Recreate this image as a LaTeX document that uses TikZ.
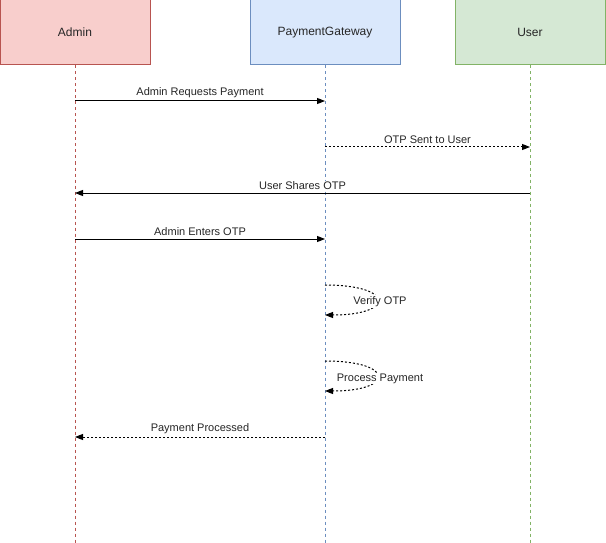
\documentclass[tikz,border=0pt]{standalone}
\usepackage{fontspec}
\setmainfont{Liberation Sans}
\usetikzlibrary{arrows.meta}
\definecolor{rfill}{HTML}{F8CECC}\definecolor{rline}{HTML}{B85450}
\definecolor{bfill}{HTML}{DAE8FC}\definecolor{bline}{HTML}{6C8EBF}
\definecolor{gfill}{HTML}{D5E8D4}\definecolor{gline}{HTML}{82B366}
\tikzset{
  actor/.style={draw=#1line, fill=#1fill, line width=1pt, minimum width=150pt, minimum height=65pt, inner sep=0pt, font=\fontsize{12pt}{14pt}\selectfont, text=black!85},
  lifeline/.style={draw=#1, line width=0.6pt, dash pattern=on 3pt off 3pt},
  msg/.style={line width=1pt, -{Triangle[length=8pt,width=6pt]}},
  reply/.style={msg, dash pattern=on 2pt off 2pt},
  lbl/.style={font=\fontsize{11pt}{13pt}\selectfont, text=black!85, inner sep=1pt, fill=white}
}
\begin{document}
\begin{tikzpicture}[x=1pt,y=-1pt]
\useasboundingbox (0,0) rectangle (606,543);
\node[actor=r] (admin) at (75,32.5) {Admin};
\node[actor=b] (pg) at (325,32.5) {PaymentGateway};
\node[actor=g] (user) at (530,32.5) {User};
\coordinate (aend) at (75,543);
\coordinate (pend) at (325,543);
\coordinate (uend) at (530,543);
\draw[lifeline=rline] (admin.south) -- (aend);
\draw[lifeline=bline] (pg.south) -- (pend);
\draw[lifeline=gline] (user.south) -- (uend);
% message anchors
\coordinate (a1) at (75,101); \coordinate (p1) at (325,101);
\coordinate (p2) at (325,147); \coordinate (u2) at (530,147);
\coordinate (u3) at (530,193); \coordinate (a3) at (75,193);
\coordinate (a4) at (75,239); \coordinate (p4) at (325,239);
\coordinate (p5s) at (325,285); \coordinate (p5e) at (325,315);
\coordinate (p6s) at (325,361); \coordinate (p6e) at (325,391);
\coordinate (p7) at (325,437); \coordinate (a7) at (75,437);
\draw[msg] (a1) -- node[lbl, above=1.5pt] (l1) {Admin Requests Payment} (p1);
\draw[reply] (p2) -- node[lbl, above=1.5pt] (l2) {OTP Sent to User} (u2);
\draw[msg] (u3) -- node[lbl, above=1.5pt] (l3) {User Shares OTP} (a3);
\draw[msg] (a4) -- node[lbl, above=1.5pt] (l4) {Admin Enters OTP} (p4);
\draw[reply] (p5s) .. controls (395,285) and (395,315) .. (p5e);
\node[lbl] (l5) at (380,301.5) {Verify OTP};
\draw[reply] (p6s) .. controls (395,361) and (395,391) .. (p6e);
\node[lbl] (l6) at (380,378.5) {Process Payment};
\draw[reply] (p7) -- node[lbl, above=1.5pt] (l7) {Payment Processed} (a7);
\end{tikzpicture}
\end{document}
